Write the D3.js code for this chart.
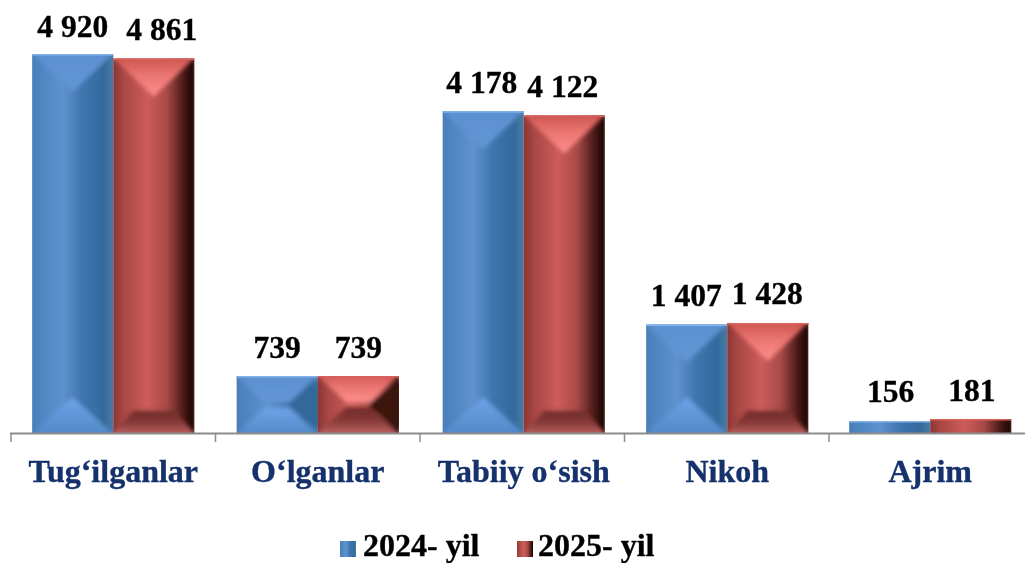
<!DOCTYPE html>
<html><head><meta charset="utf-8">
<script src="https://cdnjs.cloudflare.com/ajax/libs/d3/7.8.5/d3.min.js"></script>
<style>html,body{margin:0;padding:0;background:#fff}svg{display:block}text{font-family:"Liberation Serif",serif;font-weight:bold}</style>
</head><body><div id="c"></div>
<script>
const categories = ["Tug‘ilganlar","O‘lganlar","Tabiiy o‘sish","Nikoh","Ajrim"];
const seriesNames = ["2024- yil","2025- yil"];
const values2024 = [4920,739,4178,1407,156];
const values2025 = [4861,739,4122,1428,181];
const W=1025,H=563;
const svg=d3.select("#c").append("svg").attr("width",W).attr("height",H);
const step=204.5;
const x=d3.scaleBand().domain(categories).range([11,11+step*5]).paddingInner(0.207).paddingOuter(0.1035);
const groupNudge=[0,0,1.5,0.5,-1];
const xs=d3.scaleBand().domain(seriesNames).range([0,x.bandwidth()]);
const y=d3.scaleLinear().domain([0,4920]).range([433,54]);
const defs=svg.append("defs");
function blur(id,sd){defs.append("filter").attr("id",id).attr("x","-30%").attr("y","-30%").attr("width","160%").attr("height","160%")
  .append("feGaussianBlur").attr("stdDeviation",sd);}
blur("soft",0.6);blur("bevel",2);blur("tsoft",0.4);
function grad(id,stops,vertical){
  const g=defs.append("linearGradient").attr("id",id).attr("x1",0).attr("y1",0).attr("x2",vertical?0:1).attr("y2",vertical?1:0);
  stops.forEach(s=>g.append("stop").attr("offset",s[0]).attr("stop-color",s[1]));
}
grad("b0",[[0,"#4a7db8"],[.12,"#4f86c2"],[.38,"#5f92cf"],[.62,"#3f75ae"],[.88,"#336a9c"],[1,"#4a7aa4"]]);
grad("r0",[[0,"#8a3634"],[.12,"#a84644"],[.42,"#cc5c5a"],[.66,"#a84a48"],[.86,"#4e1c1a"],[.97,"#220604"],[1,"#4a2422"]]);
grad("b1",[[0,"#5a8fd0"],[1,"#6496d6"]],true);
grad("r1",[[0,"#c24c46"],[.5,"#ea7470"],[1,"#ff9090"]],true);
grad("b2",[[0,"#70a2e8"],[1,"#4e86c4"]],true);
grad("r2",[[0,"#6e2a28"],[.45,"#8a3c3a"],[1,"#d07472"]],true);
const pal=[
 {body:"url(#b0)",top:"url(#b1)",bot:"url(#b2)",right:"#33689a",edge:"#86b4ea"},
 {body:"url(#r0)",top:"url(#r1)",bot:"url(#r2)",right:"#3a1210",edge:"#d8625c"}
];
const rows=categories.map((c,i)=>[{c,i,s:0,v:values2024[i]},{c,i,s:1,v:values2025[i]}]).flat();
const bars=svg.append("g").attr("filter","url(#soft)").selectAll("g").data(rows).join("g");
bars.each(function(d,n){
  const g=d3.select(this),p=pal[d.s];
  const x0=x(d.c)+groupNudge[d.i]+xs(seriesNames[d.s]),w=xs.bandwidth(),t=y(d.v),b=y(0),h=b-t;
  defs.append("clipPath").attr("id","cp"+n).append("rect").attr("x",x0).attr("y",t).attr("width",w).attr("height",h);
  g.append("rect").attr("x",x0).attr("y",t).attr("width",w).attr("height",h).attr("fill",p.body);
  const inner=g.append("g").attr("clip-path",`url(#cp${n})`).append("g").attr("filter","url(#bevel)");
  const poly=(pts,f)=>inner.append("polygon").attr("points",pts.map(q=>q.join(",")).join(" ")).attr("fill",f);
  if(h>30){
    const tall=h>=80;
    const dTop=tall?38:h/2-2, ixTop=tall?w/2:h/2;
    const dBot=tall?(d.s?22:36):h/2-3, ixBot=tall?(d.s?20:w/2):h/2;
    const ext=6;
    poly([[x0-ext,t-ext],[x0+w+ext,t-ext],[x0+w-ixTop,t+dTop],[x0+ixTop,t+dTop]],p.top);
    poly([[x0-ext,b+ext],[x0+w+ext,b+ext],[x0+w-ixBot,b-dBot],[x0+ixBot,b-dBot]],p.bot);
    if(!tall) poly([[x0+w+ext,t],[x0+w+ext,b],[x0+w-ixTop,b-dBot],[x0+w-ixTop,t+dTop]],p.right);
  }
  g.append("rect").attr("x",x0).attr("y",t).attr("width",w).attr("height",1.5).attr("fill",p.edge);
});
const ax=svg.append("g");
ax.append("line").attr("x1",10).attr("x2",W).attr("y1",433.5).attr("y2",433.5).attr("stroke","#8c8c8c").attr("stroke-width",2);
ax.selectAll("line.t").data(d3.range(0,5)).join("line").attr("class","t")
  .attr("x1",i=>11+204.5*i).attr("x2",i=>11+204.5*i).attr("y1",433).attr("y2",442).attr("stroke","#8c8c8c").attr("stroke-width",1.5);
const fmt=v=>d3.format(",")(v).replace(",","\u00a0");
const labelNudge=new Map([["Tug‘ilganlar|1",8]]);
const tg=svg.append("g").attr("filter","url(#tsoft)").attr("stroke-width",0.35);
tg.selectAll("text.v").data(rows).join("text").attr("class","v")
  .attr("x",d=>x(d.c)+xs(seriesNames[d.s])+xs.bandwidth()/2+(labelNudge.get(d.c+"|"+d.s)||0))
  .attr("y",d=>y(d.v)-(d.v>4900?17:18.5)).attr("text-anchor","middle").attr("font-size",31.5).attr("fill","#000").attr("stroke","#000").text(d=>fmt(d.v));
tg.selectAll("text.c").data(categories).join("text").attr("class","c")
  .attr("x",(d,i)=>x(d)+groupNudge[i]+x.bandwidth()/2).attr("y",482).attr("text-anchor","middle").attr("font-size",32).attr("fill","#14306c").attr("stroke","#14306c").text(d=>d);
const legX=[340,517];
svg.append("g").attr("filter","url(#soft)").selectAll("rect").data(seriesNames).join("rect")
  .attr("x",(d,i)=>legX[i]).attr("y",541).attr("width",16).attr("height",16).attr("fill",(d,i)=>pal[i].body);
tg.selectAll("text.l").data(seriesNames).join("text").attr("class","l")
  .attr("x",(d,i)=>legX[i]+23-(i?2:0)).attr("y",556).attr("font-size",32).attr("fill","#000").attr("stroke","#000").text(d=>d);
</script></body></html>
